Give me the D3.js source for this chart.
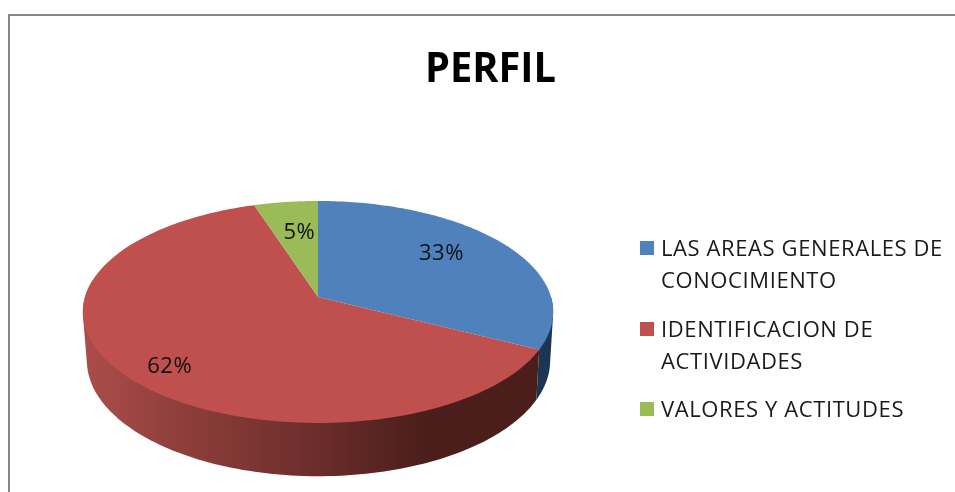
<!DOCTYPE html>
<html>
<head>
<meta charset="utf-8">
<script src="https://cdn.jsdelivr.net/npm/d3@7/dist/d3.min.js"></script>
<style>
html,body{margin:0;padding:0;background:#fff;overflow:hidden}
svg{display:block;filter:blur(0.4px)}
text{font-family:"Open Sans",sans-serif}
</style>
</head>
<body>
<svg id="c" width="955" height="492"></svg>
<script>
const title = "PERFIL";
const categories = ["LAS AREAS GENERALES DE|CONOCIMIENTO", "IDENTIFICACION DE|ACTIVIDADES", "VALORES Y ACTITUDES"];
const values = [32.5, 62.5, 5];
const valueLabels = ["33%", "62%", "5%"];
const topColors = ["#4f81bd", "#c0504d", "#9bbb59"];

const svg = d3.select("#c");
const defs = svg.append("defs");

svg.append("path").attr("d", "M9,492V15H955").attr("fill", "none").attr("stroke", "#868686").attr("stroke-width", 2);

svg.append("text").attr("x", 490.5).attr("y", 82).attr("text-anchor", "middle")
  .attr("font-size", 42).attr("font-weight", 700).attr("fill", "#000")
  .attr("textLength", 131).attr("lengthAdjust", "spacingAndGlyphs").text(title);

const k = -0.135;
function projector(cx, y0, R, A) {
  return (a, f = 1) => {
    const x = Math.sin(a) * f, y = -Math.cos(a) * f, w = 1 + k * y;
    return [cx + R * x / w, y0 + A * y / w];
  };
}
const topFace = projector(318, 297, 233, 109);
const botFace = projector(318.5, 345, 229.5, 113.5);

const pie = d3.pie().sort(null).value(d => d);
const arcs = pie(values);
const line = d3.line();

function sampled(a0, a1, n = 120) {
  return d3.range(n + 1).map(i => a0 + (a1 - a0) * i / n);
}

const g = defs.append("linearGradient").attr("id", "sideRed")
  .attr("gradientUnits", "userSpaceOnUse").attr("x1", 85).attr("x2", 540).attr("y1", 0).attr("y2", 0);
[[0, "#ab4d4a"], [0.2, "#903f3c"], [0.5, "#6c2e2b"], [0.75, "#4b1e1c"], [1, "#4b1e1c"]]
  .forEach(([o, c]) => g.append("stop").attr("offset", o).attr("stop-color", c));

// each wall is the hull of its top and bottom rim arcs, which gives straight silhouette edges
const wallStart = 0.5 * Math.PI, wallEnd = 1.55 * Math.PI;
function wall(a0, a1, fill) {
  const s = Math.max(a0, wallStart), e = Math.min(a1, wallEnd);
  if (e <= s) return;
  const as = sampled(s, e);
  const hull = d3.polygonHull(as.map(a => topFace(a)).concat(as.map(a => botFace(a))));
  svg.append("path").attr("d", line(hull) + "Z").attr("fill", fill);
}
wall(arcs[0].startAngle, arcs[0].endAngle, "#1c3553");
wall(arcs[1].startAngle, arcs[1].endAngle, "url(#sideRed)");

arcs.forEach((d, i) => {
  const pts = [topFace(0, 0)].concat(sampled(d.startAngle, d.endAngle).map(a => topFace(a)));
  svg.append("path").attr("d", line(pts) + "Z").attr("fill", topColors[i]);
});

const labelFrac = [0.65, 0.78, 0.55];
const labelNudge = [-2, 17, -3];
arcs.forEach((d, i) => {
  const [x, y] = topFace((d.startAngle + d.endAngle) / 2, labelFrac[i]);
  svg.append("text").attr("x", x).attr("y", y + labelNudge[i]).attr("text-anchor", "middle")
    .attr("font-size", 22).attr("letter-spacing", 0.5).attr("fill", "#111").text(valueLabels[i]);
});

const legendTops = [241, 322, 402];
const lineH = 32.5;
categories.forEach((c, i) => {
  svg.append("rect").attr("x", 640).attr("y", legendTops[i]).attr("width", 14).attr("height", 14).attr("fill", topColors[i]);
  c.split("|").forEach((t, j) => {
    svg.append("text").attr("x", 661).attr("y", legendTops[i] + 14.5 + j * lineH)
      .attr("font-size", 22).attr("letter-spacing", 0.6).attr("fill", "#1a1a1a").text(t);
  });
});
</script>
</body>
</html>
